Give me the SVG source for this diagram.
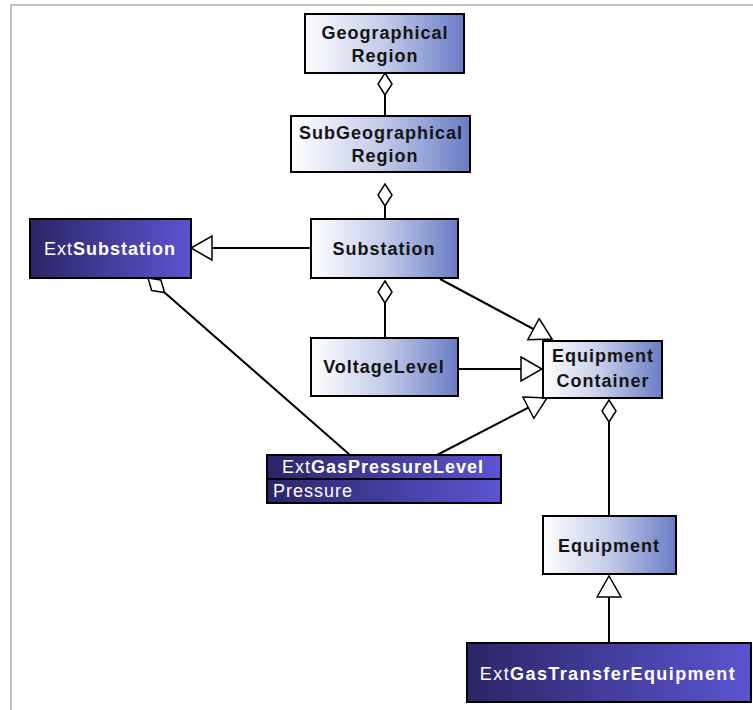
<svg xmlns="http://www.w3.org/2000/svg" width="753" height="710" viewBox="0 0 753 710">
<defs>
<linearGradient id="light" x1="0" y1="0" x2="1" y2="0">
<stop offset="0" stop-color="#ffffff"/>
<stop offset="0.5" stop-color="#c3cbe9"/>
<stop offset="1" stop-color="#6a7cc5"/>
</linearGradient>
<linearGradient id="dark" x1="0" y1="0" x2="1" y2="0">
<stop offset="0" stop-color="#2b2668"/>
<stop offset="1" stop-color="#5c54d0"/>
</linearGradient>
<marker id="gen" markerUnits="userSpaceOnUse" markerWidth="26" markerHeight="28" refX="22" refY="13" orient="auto">
<path d="M1,1 L22,13 L1,25 Z" fill="#fff" stroke="#000" stroke-width="1.5"/>
</marker>
<marker id="agg" markerUnits="userSpaceOnUse" markerWidth="26" markerHeight="20" refX="1" refY="8" orient="auto">
<path d="M1,8 L12,1 L23,8 L12,15 Z" fill="#fff" stroke="#000" stroke-width="1.5"/>
</marker>
<style>
.box{stroke:#000;stroke-width:2}
.l{fill:url(#light)}
.d{fill:url(#dark)}
.t{font-family:"Liberation Sans",Arial,sans-serif;font-size:18px;font-weight:bold;letter-spacing:1px;text-anchor:middle;fill:#141414}
.w{fill:#ffffff}
.n{font-weight:normal}
.c{stroke:#000;stroke-width:2;fill:none}
.g{marker-end:url(#gen)}
.a{marker-start:url(#agg)}
</style>
</defs>
<rect x="11" y="5" width="750" height="720" fill="none" stroke="#c0c0c0" stroke-width="2"/>
<g id="connectors">
<line class="c a" x1="385" y1="73" x2="385" y2="116"/>
<line class="c a" x1="385" y1="184" x2="385" y2="219"/>
<line class="c a" x1="385" y1="281" x2="385" y2="338"/>
<line class="c g" x1="311" y1="248" x2="191" y2="248"/>
<line class="c g" x1="440" y1="279" x2="552" y2="339"/>
<line class="c g" x1="458" y1="369" x2="542" y2="369"/>
<line class="c g" x1="437" y1="455" x2="547" y2="398"/>
<line class="c a" x1="148" y1="278" x2="350" y2="455"/>
<line class="c a" x1="609" y1="400" x2="609" y2="516"/>
<line class="c g" x1="609" y1="643" x2="609" y2="576"/>
</g>
<g id="GeographicalRegion">
<rect class="box l" x="305" y="14" width="159" height="59"/>
<text class="t" x="385" y="39">Geographical</text>
<text class="t" x="385" y="62">Region</text>
</g>
<g id="SubGeographicalRegion">
<rect class="box l" x="291" y="116" width="179" height="56"/>
<text class="t" x="381" y="139">SubGeographical</text>
<text class="t" x="385" y="162">Region</text>
</g>
<g id="Substation">
<rect class="box l" x="311" y="219" width="147" height="59"/>
<text class="t" x="384" y="255">Substation</text>
</g>
<g id="ExtSubstation">
<rect class="box d" x="30" y="219" width="161" height="59"/>
<text class="t w" x="110" y="255"><tspan class="n">Ext</tspan>Substation</text>
</g>
<g id="VoltageLevel">
<rect class="box l" x="311" y="338" width="147" height="58"/>
<text class="t" x="384" y="373">VoltageLevel</text>
</g>
<g id="EquipmentContainer">
<rect class="box l" x="543" y="341" width="119" height="57"/>
<text class="t" x="603" y="362">Equipment</text>
<text class="t" x="603" y="387">Container</text>
</g>
<g id="ExtGasPressureLevel">
<rect class="box d" x="267" y="455" width="234" height="48"/>
<line x1="267" y1="479" x2="501" y2="479" stroke="#000" stroke-width="2"/>
<text class="t w" x="383" y="473"><tspan class="n">Ext</tspan>GasPressureLevel</text>
<text class="t w n" x="273" y="497" style="text-anchor:start">Pressure</text>
</g>
<g id="Equipment">
<rect class="box l" x="543" y="516" width="133" height="58"/>
<text class="t" x="609" y="552">Equipment</text>
</g>
<g id="ExtGasTransferEquipment">
<rect class="box d" x="467" y="643" width="284" height="59"/>
<text class="t w" x="608" y="680" style="letter-spacing:1.4px"><tspan class="n">Ext</tspan>GasTransferEquipment</text>
</g>
</svg>
